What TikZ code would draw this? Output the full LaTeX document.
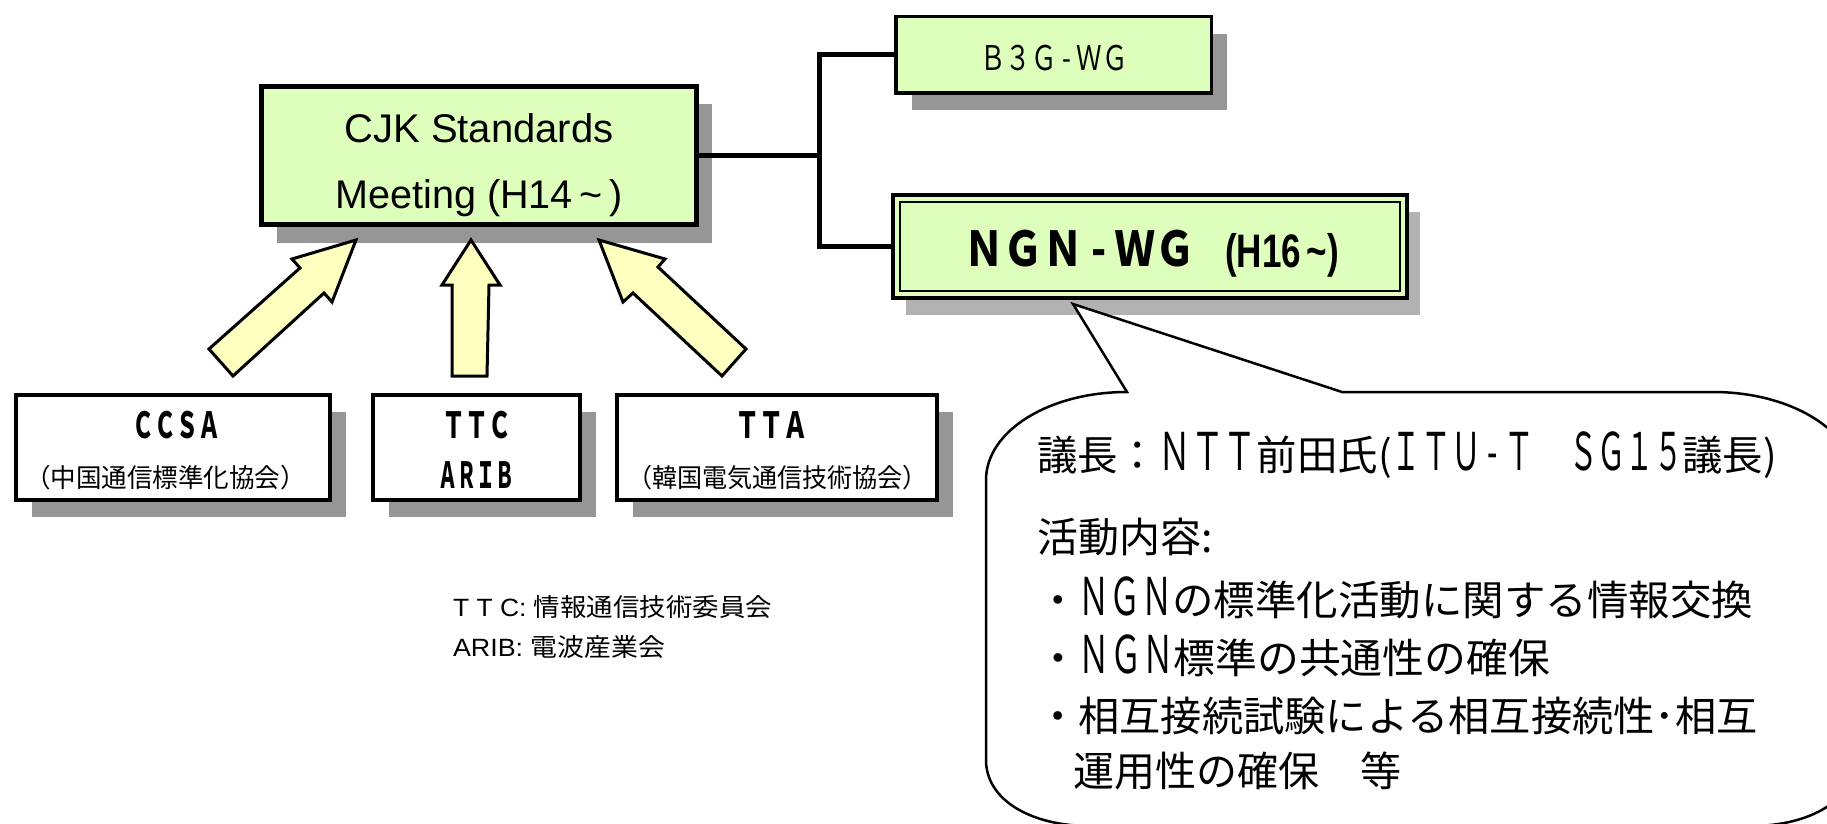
\documentclass[tikz,border=0pt]{standalone}
\usepackage{fontspec}
\setmainfont{Liberation Sans}
\newfontfamily\jp{Noto Sans CJK JP}
\usetikzlibrary{shadows}
\definecolor{boxgreen}{HTML}{DDFFBB}
\definecolor{arrowyellow}{HTML}{FFFFBF}
\definecolor{checkgray}{RGB}{150,150,150}
\definecolor{solidgray}{HTML}{B2B2B2}
\newcommand\fitw[2]{\resizebox{#1}{\height}{#2}}
\newcommand\lat[3]{\fitw{#1}{\fontsize{#2}{#2}\selectfont #3}}
\begin{document}
\begin{tikzpicture}[x=0.5pt,y=-0.5pt,
  every node/.style={inner sep=0pt, outer sep=0pt},
  gbox/.style={draw=black, fill=boxgreen, rectangle},
  wbox/.style={draw=black, fill=white, rectangle, line width=2pt,
    minimum height=52.5pt,
    general shadow={fill=checkgray, shadow xshift=8pt, shadow yshift=-8.5pt}},
  lbl/.style={anchor=base},
  lblw/.style={anchor=base west},
  conn/.style={draw=black, line width=2.5pt, line join=miter},
  blockarrow/.style={draw=black, fill=arrowyellow, line width=1.5pt, line join=miter},
  bubble/.style={draw=black, fill=white, line width=1.25pt, line join=miter},
  bigjp/.style={font=\jp\fontsize{20.5pt}{24pt}\selectfont},
  boxlat/.style={font=\jp\bfseries\fontsize{18pt}{20pt}\selectfont}
]
\useasboundingbox (0,0) rectangle (1827,824);
\begin{scope}
\clip (0,0) rectangle (1827,824);

% top boxes
\node[gbox, line width=2.5pt, minimum width=217.5pt, minimum height=69pt,
  general shadow={fill=checkgray, shadow xshift=7.5pt, shadow yshift=-9pt}] (cjk) at (479,155.5) {};
\node[gbox, line width=1.75pt, minimum width=157.75pt, minimum height=38.25pt,
  general shadow={fill=checkgray, shadow xshift=8pt, shadow yshift=-8.5pt}] (b3g) at (1053.5,55) {};
\node[gbox, line width=2pt, minimum width=257pt, minimum height=51.5pt,
  general shadow={fill=solidgray, shadow xshift=6.5pt, shadow yshift=-8.5pt}] (ngn) at (1150,246.5) {};
\draw[line width=1pt] ([shift={(3.5pt,-3.5pt)}]ngn.north west) rectangle ([shift={(-3.5pt,3.5pt)}]ngn.south east);

% bottom boxes
\node[wbox, minimum width=157pt] (ccsa) at (173,447.5) {};
\node[wbox, minimum width=103.5pt] (ttc) at (476.5,447.5) {};
\node[wbox, minimum width=160pt] (tta) at (777,447.5) {};

% connectors
\coordinate (jn) at (819,155.5);
\draw[conn] (cjk.east) -- (jn);
\draw[conn] (b3g.west) -| (jn) |- (ngn.west);

% block arrows
\draw[blockarrow] (356,240) -- (292,259) -- (300,268) -- (209,349) -- (233,376) -- (324,293) -- (332,302) -- cycle;
\draw[blockarrow] (471,240) -- (500,285) -- (489,285) -- (487,376) -- (452,376) -- (452,285) -- (442,285) -- cycle;
\draw[blockarrow] (599,240) -- (665,259) -- (658,267) -- (746,349) -- (722,376) -- (633,293) -- (623,302) -- cycle;

% callout
\draw[bubble] (1127,392) -- (1073,304) -- (1342,392) -- (1713,392)
  .. controls (1791,392) and (1855,431) .. (1855,480) -- (1855,760)
  .. controls (1855,800) and (1810,826) .. (1751,826) -- (1090,826)
  .. controls (1031,826) and (986,800) .. (986,760) -- (986,480)
  .. controls (986,431) and (1049,392) .. (1127,392) -- cycle;
\end{scope}

% texts in boxes
\node[lbl] (cjkt1) at (479,142) {\fontsize{20pt}{24pt}\selectfont CJK Standards};
\node[lbl] (cjkt2) at (479,208) {\fontsize{20pt}{24pt}\selectfont\fitw{143.5pt}{Meeting (H14\,\textasciitilde\,)}};
\node[lblw] (b3gt) at (980,70) {\lat{74pt}{17pt}{\jp Ｂ３Ｇ - ＷＧ}};
\node[lblw] (ngnt) at (964,267) {\lat{115.5pt}{24pt}{\jp\bfseries ＮＧＮ - ＷＧ}\hspace{15pt}{\bfseries\fontsize{23.5pt}{26pt}\selectfont\fitw{57pt}{(H16\,\textasciitilde)}}};

\node[lbl, boxlat] (ccsat) at (176,438) {\fitw{44pt}{ＣＣＳＡ}};
\node[lbl] (ccsas) at (165.5,487) {\jp\fontsize{13pt}{16pt}\selectfont\fitw{140.5pt}{（中国通信標準化協会）}};
\node[lbl, boxlat] (ttct) at (476.5,438) {\fitw{34.5pt}{ＴＴＣ}};
\node[lbl, boxlat] (aribt) at (476,488) {\fitw{38pt}{ＡＲＩＢ}};
\node[lbl, boxlat] (ttat) at (771.5,438) {\fitw{36.5pt}{ＴＴＡ}};
\node[lbl] (ttas) at (777.5,487) {\jp\fontsize{13pt}{16pt}\selectfont\fitw{150.5pt}{（韓国電気通信技術協会）}};

% legend
\node[lblw] (leg1) at (453,616) {\fontsize{12.5pt}{15pt}\selectfont\fitw{159.5pt}{T T C: {\jp 情報通信技術委員会}}};
\node[lblw] (leg2) at (453,656) {\fontsize{12.5pt}{15pt}\selectfont\fitw{106pt}{ARIB: {\jp 電波産業会}}};

% callout text
\node[lblw, bigjp] (chair) at (1037,470) {\fitw{370pt}{議長：\lat{50pt}{26pt}{ＮＴＴ}前田氏(\lat{72.5pt}{26pt}{ＩＴＵ - Ｔ}\hspace{17.5pt}\lat{57.5pt}{26pt}{ＳＧ１５}議長)}};
\node[lblw, bigjp] (act) at (1037,552) {活動内容:};
\node[lblw, bigjp] (item1) at (1037,615) {\fitw{358pt}{・\lat{46.5pt}{26pt}{ＮＧＮ}の標準化活動に関する情報交換}};
\node[lblw, bigjp] (item2) at (1037,673) {\fitw{256.5pt}{・\lat{46.5pt}{26pt}{ＮＧＮ}標準の共通性の確保}};
\node[lblw, bigjp] (item3) at (1037,731) {\fitw{360.5pt}{・相互接続試験による相互接続性･相互}};
\node[lblw, bigjp] (item4) at (1073,786) {運用性の確保　等};
\end{tikzpicture}
\end{document}
